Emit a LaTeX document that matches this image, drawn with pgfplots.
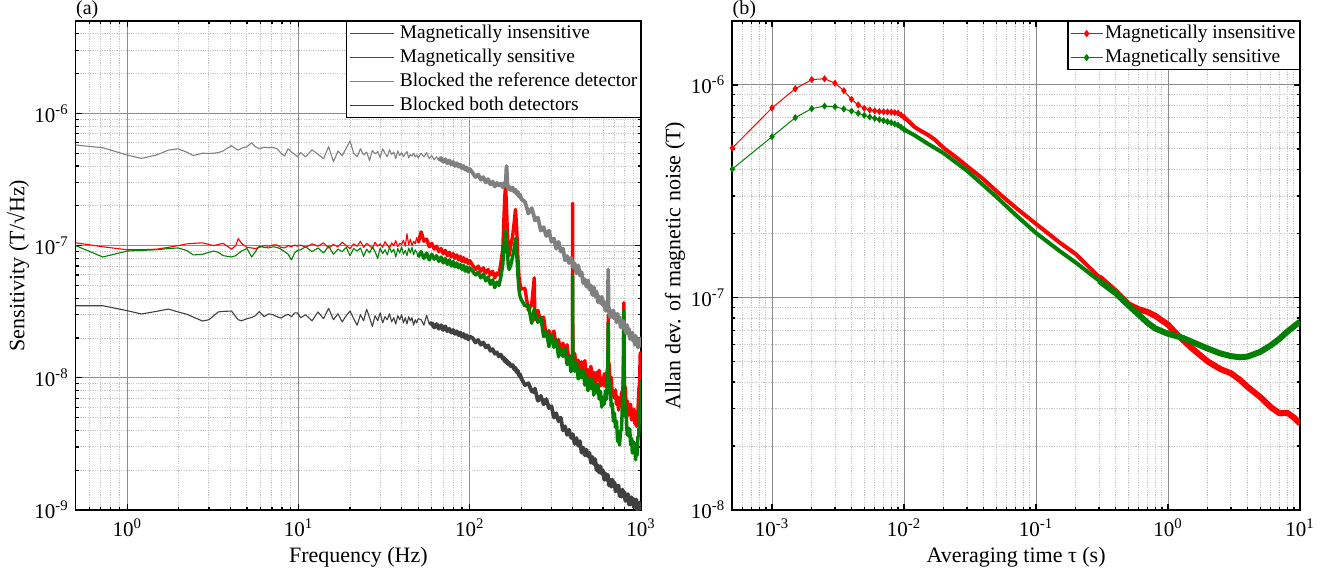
\documentclass[border=0pt]{standalone}
\usepackage{fontspec}
\setmainfont{Liberation Serif}
\usepackage{pgfplots}
\usepackage{pgfplotstable}
\pgfplotsset{compat=1.18}

\definecolor{cRed}{RGB}{255,0,0}
\definecolor{cGreen}{RGB}{0,128,0}
\definecolor{cGray}{RGB}{128,128,128}
\definecolor{cDark}{RGB}{64,64,64}

% noise spectra: f, insensitive, sensitive, ref blocked, both blocked
\pgfplotstableread{
f r g a k
0.5 105e-9 100e-9 577e-9 35.1e-9
0.72 98e-9 82e-9 550e-9 35.1e-9
1.0 93e-9 91e-9 484e-9 32.2e-9
1.21 93e-9 92e-9 457e-9 30.4e-9
1.48 94e-9 93e-9 484e-9 31.8e-9
1.74 97e-9 95e-9 528e-9 33.1e-9
1.98 100e-9 96e-9 540e-9 31.5e-9
2.22 103e-9 92e-9 510e-9 30.3e-9
2.43 104e-9 85e-9 480e-9 28.8e-9
2.75 105e-9 86e-9 500e-9 26.9e-9
3.0 102e-9 89e-9 498e-9 27.5e-9
3.2 100e-9 91e-9 500e-9 29.5e-9
3.4 102e-9 89e-9 505e-9 31.5e-9
3.63 104e-9 84e-9 520e-9 31.8e-9
4.06 94e-9 82e-9 570e-9 32.0e-9
4.3 100e-9 84e-9 540e-9 29.0e-9
4.45 113e-9 87e-9 528e-9 27.5e-9
4.65 104e-9 91e-9 545e-9 27.0e-9
5.0 97e-9 95e-9 560e-9 28.0e-9
5.33 96e-9 82e-9 600e-9 28.6e-9
5.6 95e-9 90e-9 560e-9 29.5e-9
5.9 97e-9 99e-9 540e-9 31.7e-9
6.3 100e-9 97e-9 555e-9 29.0e-9
6.7 99e-9 96e-9 550e-9 30.5e-9
7.1 101e-9 98e-9 552e-9 30.0e-9
7.5 101e-9 97e-9 540e-9 29.0e-9
7.9 97e-9 94e-9 500e-9 28.3e-9
8.3 96e-9 90e-9 476e-9 29.5e-9
8.7 100e-9 86e-9 540e-9 30.2e-9
9.1 98e-9 78e-9 510e-9 29.0e-9
9.5 101e-9 88e-9 490e-9 31.0e-9
9.85 99e-9 92e-9 470e-9 31.0e-9
10.3 101e-9 93e-9 505e-9 28.5e-9
11 97e-9 98e-9 470e-9 30.0e-9
12 103e-9 90e-9 530e-9 27.0e-9
13 99e-9 96e-9 490e-9 31.5e-9
14 105e-9 88e-9 455e-9 28.0e-9
15 96e-9 99e-9 560e-9 33.5e-9
16 102e-9 86e-9 430e-9 27.5e-9
17 98e-9 94e-9 520e-9 30.5e-9
18 106e-9 90e-9 480e-9 26.5e-9
19 100e-9 97e-9 545e-9 29.5e-9
20 95e-9 84e-9 620e-9 32.0e-9
21 103e-9 95e-9 500e-9 28.0e-9
22 99e-9 91e-9 470e-9 25.0e-9
23 108e-9 96e-9 540e-9 30.0e-9
24 97e-9 83e-9 485e-9 27.0e-9
25 104e-9 94e-9 510e-9 33.0e-9
26 100e-9 88e-9 440e-9 28.5e-9
27 95e-9 98e-9 525e-9 24.5e-9
28 106e-9 90e-9 495e-9 29.5e-9
29 99e-9 80e-9 515e-9 27.0e-9
30 103e-9 96e-9 465e-9 31.0e-9
31 97e-9 87e-9 540e-9 26.0e-9
32 107e-9 93e-9 500e-9 29.0e-9
33 101e-9 85e-9 470e-9 27.5e-9
34 96e-9 97e-9 530e-9 30.5e-9
35 105e-9 89e-9 490e-9 26.5e-9
36 100e-9 94e-9 510e-9 28.5e-9
37 109e-9 82e-9 455e-9 25.5e-9
38 98e-9 95e-9 520e-9 29.5e-9
39 104e-9 88e-9 480e-9 27.5e-9
40 102e-9 98e-9 505e-9 30.0e-9
41 110e-9 86e-9 470e-9 26.0e-9
42 99e-9 92e-9 495e-9 28.5e-9
43 123e-9 84e-9 515e-9 25.5e-9
44 101e-9 96e-9 460e-9 29.0e-9
45 112e-9 88e-9 490e-9 27.0e-9
46 100e-9 97e-9 475e-9 28.5e-9
47 108e-9 85e-9 500e-9 25.0e-9
48 103e-9 93e-9 470e-9 27.5e-9
49 115e-9 89e-9 485e-9 26.0e-9
50 105e-9 82e-9 460e-9 28.0e-9
52 127e-9 90e-9 500e-9 27.5e-9
54 108e-9 80e-9 470e-9 25.0e-9
56 112e-9 88e-9 505e-9 29.8e-9
58 98e-9 78e-9 455e-9 25.5e-9
60 104e-9 86e-9 480e-9 26.0e-9
62 94e-9 79e-9 445e-9 24.0e-9
64 99e-9 84e-9 470e-9 25.5e-9
66 90e-9 76e-9 440e-9 23.5e-9
68 95e-9 82e-9 460e-9 25.0e-9
70 87e-9 74e-9 430e-9 23.0e-9
72 92e-9 80e-9 450e-9 24.5e-9
74 84e-9 72e-9 420e-9 22.5e-9
76 89e-9 78e-9 440e-9 23.5e-9
78 82e-9 70e-9 410e-9 22.0e-9
80 87e-9 76e-9 430e-9 23.0e-9
82 80e-9 69e-9 400e-9 21.5e-9
84 85e-9 74e-9 420e-9 22.5e-9
86 78e-9 68e-9 395e-9 21.0e-9
88 83e-9 72e-9 410e-9 22.0e-9
90 76e-9 66e-9 385e-9 20.5e-9
92 81e-9 71e-9 400e-9 21.5e-9
94 75e-9 64e-9 375e-9 20.0e-9
96 79e-9 69e-9 390e-9 21.0e-9
98 73e-9 63e-9 365e-9 19.5e-9
100 77e-9 68e-9 380e-9 20.5e-9
104 71e-9 64e-9 355e-9 20.0e-9
108 66e-9 60e-9 330e-9 18.5e-9
112 70e-9 63e-9 345e-9 19.3e-9
116 64e-9 57e-9 315e-9 17.8e-9
120 68e-9 61e-9 330e-9 18.5e-9
124 62e-9 54e-9 300e-9 17.0e-9
128 66e-9 58e-9 318e-9 17.6e-9
132 60e-9 51e-9 290e-9 16.0e-9
136 64e-9 55e-9 305e-9 16.5e-9
140 57e-9 48e-9 280e-9 15.2e-9
144 62e-9 53e-9 298e-9 15.6e-9
148 60e-9 50e-9 285e-9 14.5e-9
152 74e-9 58e-9 295e-9 15.0e-9
156 95e-9 72e-9 275e-9 13.9e-9
158 150e-9 92e-9 290e-9 14.2e-9
160 230e-9 118e-9 300e-9 13.3e-9
162 287e-9 131e-9 285e-9 13.8e-9
164 190e-9 108e-9 400e-9 13.0e-9
166 125e-9 88e-9 290e-9 13.4e-9
168 92e-9 70e-9 268e-9 12.6e-9
170 84e-9 66e-9 280e-9 13.0e-9
174 102e-9 72e-9 262e-9 12.2e-9
178 118e-9 82e-9 275e-9 12.5e-9
182 152e-9 96e-9 255e-9 11.6e-9
185 188e-9 113e-9 265e-9 11.9e-9
188 135e-9 88e-9 245e-9 11.0e-9
191 82e-9 60e-9 255e-9 11.3e-9
194 58e-9 46e-9 235e-9 10.4e-9
197 50e-9 41e-9 242e-9 10.6e-9
200 47e-9 39e-9 225e-9 9.9e-9
210 47.5e-9 35e-9 215e-9 8.8e-9
220 32.4e-9 35.5e-9 175e-9 9.1e-9
230 36e-9 25.8e-9 192e-9 7.9e-9
238 57e-9 33e-9 165e-9 7.8e-9
240 27.5e-9 30.2e-9 155e-9 8.3e-9
250 32.4e-9 26.3e-9 163e-9 6.7e-9
260 26.4e-9 28.8e-9 130e-9 7.3e-9
270 28.8e-9 20.5e-9 138e-9 6.3e-9
280 20.5e-9 22.5e-9 118e-9 6.9e-9
290 22.7e-9 17.2e-9 130e-9 5.9e-9
300 19.5e-9 21.1e-9 107e-9 6.1e-9
310 22.6e-9 17e-9 113e-9 5.0e-9
320 17.3e-9 19.5e-9 94.8e-9 5.4e-9
330 19.5e-9 14.4e-9 107e-9 4.7e-9
340 15.1e-9 16.6e-9 90e-9 5.0e-9
350 18.3e-9 14.5e-9 95e-9 4.0e-9
360 15.6e-9 16.7e-9 77.4e-9 4.3e-9
370 17.8e-9 12.6e-9 83.4e-9 3.7e-9
380 13.2e-9 14.6e-9 73.8e-9 4.05e-9
390 14.6e-9 11.1e-9 81e-9 3.53e-9
398 13.5e-9 12.8e-9 73e-9 3.5e-9
399 209e-9 59e-9 70e-9 3.55e-9
400 12.8e-9 13.6e-9 68.4e-9 3.75e-9
410 15.3e-9 11.2e-9 73.5e-9 3.16e-9
420 11.8e-9 13.1e-9 61.6e-9 3.5e-9
430 13.6e-9 9.8e-9 70.9e-9 3.06e-9
440 10.8e-9 11.4e-9 59.5e-9 3.32e-9
450 13.2e-9 10e-9 63.1e-9 2.71e-9
460 11.5e-9 11.5e-9 51.9e-9 2.96e-9
470 13.5e-9 8.8e-9 55.6e-9 2.59e-9
480 10.2e-9 10.3e-9 48.9e-9 2.86e-9
490 11.5e-9 8.0e-9 54.5e-9 2.55e-9
500 10.2e-9 9.9e-9 46.6e-9 2.7e-9
510 12.2e-9 8.3e-9 49.9e-9 2.28e-9
520 9.5e-9 9.8e-9 42.3e-9 2.52e-9
530 11e-9 7.4e-9 48.5e-9 2.23e-9
540 8.9e-9 8.7e-9 41.3e-9 2.43e-9
550 11e-9 7.7e-9 44.9e-9 2.0e-9
560 9.6e-9 9.0e-9 37.3e-9 2.18e-9
570 11.4e-9 6.9e-9 41.2e-9 1.92e-9
580 8.7e-9 7.9e-9 36.7e-9 2.14e-9
590 9.9e-9 6.0e-9 41e-9 1.88e-9
600 8.8e-9 7.1e-9 35.2e-9 1.99e-9
610 10.7e-9 6.3e-9 37.8e-9 1.69e-9
620 8.6e-9 8.0e-9 32.2e-9 1.89e-9
630 10.6e-9 6.9e-9 37.1e-9 1.69e-9
640 12e-9 12.5e-9 31.7e-9 1.85e-9
644 30e-9 26e-9 66e-9 1.7e-9
646 13e-9 11e-9 33e-9 1.68e-9
650 13e-9 9.4e-9 34.2e-9 1.53e-9
660 9.6e-9 9.0e-9 28.7e-9 1.7e-9
670 10.1e-9 6.1e-9 31.9e-9 1.5e-9
680 7.3e-9 6.4e-9 28.7e-9 1.7e-9
690 8.0e-9 4.7e-9 32.4e-9 1.51e-9
700 7.0e-9 5.4e-9 28e-9 1.62e-9
710 8.1e-9 4.2e-9 30.5e-9 1.38e-9
720 6.3e-9 4.7e-9 26.2e-9 1.54e-9
730 7.2e-9 3.3e-9 30.5e-9 1.39e-9
740 5.7e-9 3.6e-9 26.4e-9 1.53e-9
750 7.0e-9 3.1e-9 28.9e-9 1.27e-9
760 6.2e-9 4.0e-9 24.1e-9 1.41e-9
770 7.8e-9 4.0e-9 26.8e-9 1.26e-9
780 7.1e-9 7.0e-9 24e-9 1.43e-9
788 10e-9 8.5e-9 27e-9 1.27e-9
795 37e-9 32e-9 25.5e-9 1.3e-9
800 8.4e-9 7.6e-9 23.3e-9 1.37e-9
810 8.5e-9 5.1e-9 25.2e-9 1.17e-9
820 6.1e-9 5.3e-9 21.6e-9 1.31e-9
830 6.7e-9 3.7e-9 25.1e-9 1.18e-9
840 5.2e-9 4.2e-9 21.6e-9 1.32e-9
850 6.3e-9 3.6e-9 23.5e-9 1.1e-9
860 5.4e-9 4.1e-9 19.7e-9 1.23e-9
870 6.3e-9 3.1e-9 21.8e-9 1.1e-9
880 4.8e-9 3.5e-9 19.6e-9 1.25e-9
890 5.5e-9 2.7e-9 22e-9 1.13e-9
900 4.8e-9 3.3e-9 19e-9 1.22e-9
910 5.8e-9 2.8e-9 20.7e-9 1.05e-9
920 4.5e-9 3.2e-9 17.8e-9 1.19e-9
930 5.3e-9 2.4e-9 20.8e-9 1.08e-9
940 4.3e-9 2.8e-9 18.1e-9 1.2e-9
950 5.6e-9 2.6e-9 20e-9 1.0e-9
960 5.6e-9 3.6e-9 16.9e-9 1.12e-9
970 8.1e-9 3.6e-9 19.1e-9 1.01e-9
980 8.9e-9 5.9e-9 17.3e-9 1.14e-9
990 15.5e-9 6.0e-9 19.8e-9 1.03e-9
1000 11.2e-9 9.7e-9 17.4e-9 1.12e-9
}\spectab

% Allan deviation, short taus (drawn with marks)
\pgfplotstableread{
t r g
5e-4 5.05e-7 4.02e-7
1e-3 7.8e-7 5.71e-7
1.5e-3 9.6e-7 7.02e-7
2e-3 1.06e-6 7.74e-7
2.5e-3 1.07e-6 7.96e-7
3e-3 1.02e-6 7.9e-7
3.5e-3 9.4e-7 7.71e-7
4e-3 8.56e-7 7.54e-7
4.5e-3 8.05e-7 7.36e-7
5e-3 7.77e-7 7.2e-7
5.5e-3 7.63e-7 7.07e-7
6e-3 7.55e-7 6.97e-7
6.5e-3 7.5e-7 6.87e-7
7e-3 7.48e-7 6.8e-7
7.5e-3 7.47e-7 6.72e-7
8e-3 7.45e-7 6.65e-7
8.5e-3 7.42e-7 6.56e-7
9e-3 7.38e-7 6.47e-7
9.5e-3 7.22e-7 6.33e-7
1e-2 7.05e-7 6.18e-7
}\allanA

% dense part, insensitive
\pgfplotstableread{
t v
0.01 7.05e-7
0.011 6.7e-7
0.012 6.35e-7
0.013 6.15e-7
0.015 5.85e-7
0.017 5.55e-7
0.02 5.05e-7
0.025 4.55e-7
0.03 4.15e-7
0.04 3.6e-7
0.05 3.17e-7
0.07 2.65e-7
0.1 2.22e-7
0.15 1.82e-7
0.2 1.6e-7
0.3 1.25e-7
}\allanRb
\pgfplotstableread{
t v
0.3 1.25e-7
0.4 1.07e-7
0.5 9.3e-8
0.6 8.8e-8
0.7 8.55e-8
0.8 8.2e-8
1.0 7.45e-8
1.2 6.6e-8
1.5 5.8e-8
2.0 5.0e-8
2.5 4.6e-8
3.0 4.4e-8
3.5 4.1e-8
4.0 3.8e-8
5.0 3.4e-8
6.0 3.05e-8
7.0 2.85e-8
8.0 2.87e-8
9.0 2.72e-8
10 2.55e-8
}\allanRc

% dense part, sensitive
\pgfplotstableread{
t v
0.01 6.18e-7
0.012 5.8e-7
0.015 5.31e-7
0.02 4.77e-7
0.03 3.95e-7
0.05 2.98e-7
0.07 2.45e-7
0.1 2.01e-7
0.15 1.66e-7
0.2 1.46e-7
0.3 1.2e-7
}\allanGb
\pgfplotstableread{
t v
0.3 1.2e-7
0.4 1.05e-7
0.5 9.2e-8
0.6 8.3e-8
0.7 7.6e-8
0.8 7.15e-8
1.0 6.75e-8
1.3 6.45e-8
1.6 6.1e-8
2.0 5.75e-8
2.5 5.45e-8
3.0 5.3e-8
3.5 5.23e-8
4.0 5.27e-8
5.0 5.55e-8
6.0 5.95e-8
7.0 6.4e-8
8.0 6.9e-8
10 7.7e-8
}\allanGc

% exponent labels set in the text font, hyphen as minus like the original
\pgfplotsset{
  log number format basis/.code 2 args={#1\textsuperscript{\pgfmathprintnumber[assume math mode=true]{#2}}},
}

% legend sample drawn inside the entry text
\newcommand{\lsample}[1]{\tikz[baseline=-2.6pt]\draw[draw=#1, line width=0.6pt] (0pt,0pt) -- (22pt,0pt);\hspace{2.5pt}}

\pgfplotsset{
  panelstyle/.style={
    scale only axis, anchor=south west,
    axis line style={line width=0.8pt},
    tick align=inside,
    major tick length=3pt, minor tick length=1.5pt,
    every tick/.style={black, line width=0.6pt},
    grid=both,
    major grid style={color=black!45, line width=0.5pt},
    minor grid style={color=black!22, line width=0.5pt, dash pattern=on 0.6pt off 0.6pt},
    tick label style={font=\fontsize{10.5}{12}\selectfont},
    xticklabel style={anchor=base, yshift=-13pt},
    label style={font=\fontsize{11}{13}\selectfont},
    xlabel style={at={(axis description cs:0.5,0)}, anchor=base, yshift=-26.3pt},
    legend cell align=left,
    legend style={at={(1,1)}, anchor=north east, draw=black, line width=0.6pt,
      fill=white, inner xsep=1pt, inner ysep=0pt, row sep=0pt,
      font=\fontsize{9.7}{11}\selectfont,
      nodes={inner sep=1pt, text height=7.5pt, text depth=2.5pt}},
  },
}

\begin{document}
\begin{tikzpicture}
\useasboundingbox (0,0) rectangle (667.5pt,288pt);

\begin{axis}[xmode=log, ymode=log, panelstyle,
  at={(37.85pt,33pt)}, width=282.65pt, height=244.5pt,
  xmin=0.5, xmax=1000, ymin=1e-9, ymax=5e-6,
  xlabel={Frequency (Hz)},
  ylabel={Sensitivity (T/√Hz)},
  ylabel style={at={(axis description cs:-0.102,0.5)}, anchor=center},
  extra description/.code={\node[anchor=base west, inner sep=0pt,
    font=\fontsize{10}{12}\selectfont, yshift=3.3pt] at (0,1) {(a)};},
  legend image code/.code={},
  legend style={column sep=0pt, nodes={inner sep=0.5pt, text height=8pt, text depth=3pt}},
]
\addplot[draw=cRed, line width=0.55pt, line join=round] table[x=f, y=r] {\spectab};
\addlegendentry{\lsample{cRed}Magnetically insensitive}
\addplot[draw=cRed, line width=1.7pt, line join=round, forget plot,
  skip coords between index={0}{72}] table[x=f, y=r] {\spectab};
\addplot[draw=cGreen, line width=0.55pt, line join=round] table[x=f, y=g] {\spectab};
\addlegendentry{\lsample{cGreen}Magnetically sensitive}
\addplot[draw=cGreen, line width=1.7pt, line join=round, forget plot,
  skip coords between index={0}{72}] table[x=f, y=g] {\spectab};
\addplot[draw=cGray, line width=0.55pt, line join=round] table[x=f, y=a] {\spectab};
\addlegendentry{\lsample{cGray}Blocked the reference detector}
\addplot[draw=cGray, line width=1.9pt, line join=round, forget plot,
  skip coords between index={0}{80}] table[x=f, y=a] {\spectab};
\addplot[draw=cDark, line width=0.55pt, line join=round] table[x=f, y=k] {\spectab};
\addlegendentry{\lsample{cDark}Blocked both detectors}
\addplot[draw=cDark, line width=1.9pt, line join=round, forget plot,
  skip coords between index={0}{76}] table[x=f, y=k] {\spectab};
\end{axis}

\begin{axis}[xmode=log, ymode=log, panelstyle,
  at={(366.15pt,33pt)}, width=283.85pt, height=244.5pt,
  xmin=5e-4, xmax=10, ymin=1e-8, ymax=2e-6,
  xlabel={Averaging time τ (s)},
  ylabel={Allan dev. of magnetic noise (T)},
  ylabel style={at={(axis description cs:-0.101,0.5)}, anchor=center},
  extra description/.code={\node[anchor=base west, inner sep=0pt,
    font=\fontsize{10}{12}\selectfont, yshift=3.3pt] at (0,1) {(b)};},
]
\addplot[color=cRed, draw=cRed, line width=0.5pt, mark=diamond*, mark size=1.4pt,
  mark options={fill=cRed, draw=cRed},
  legend image code/.code={\draw[draw=cRed, line width=0.6pt] (0pt,0pt) -- (16pt,0pt);
    \draw[cRed, mark=diamond*, mark size=1.4pt, mark options={fill=cRed, draw=cRed}]
      plot coordinates {(8pt,0pt)};}]
  table[x=t, y=r] {\allanA};
\addlegendentry{Magnetically insensitive}
\addplot[color=cGreen, draw=cGreen, line width=0.5pt, mark=diamond*, mark size=1.4pt,
  mark options={fill=cGreen, draw=cGreen},
  legend image code/.code={\draw[draw=cGreen, line width=0.6pt] (0pt,0pt) -- (16pt,0pt);
    \draw[cGreen, mark=diamond*, mark size=1.4pt, mark options={fill=cGreen, draw=cGreen}]
      plot coordinates {(8pt,0pt)};}]
  table[x=t, y=g] {\allanA};
\addlegendentry{Magnetically sensitive}
\addplot[draw=cRed, line width=2pt, line join=round, forget plot] table[x=t, y=v] {\allanRb};
\addplot[draw=cRed, line width=3pt, line join=round, forget plot] table[x=t, y=v] {\allanRc};
\addplot[draw=cGreen, line width=2pt, line join=round, forget plot] table[x=t, y=v] {\allanGb};
\addplot[draw=cGreen, line width=3pt, line join=round, forget plot] table[x=t, y=v] {\allanGc};
\end{axis}
\end{tikzpicture}
\end{document}
